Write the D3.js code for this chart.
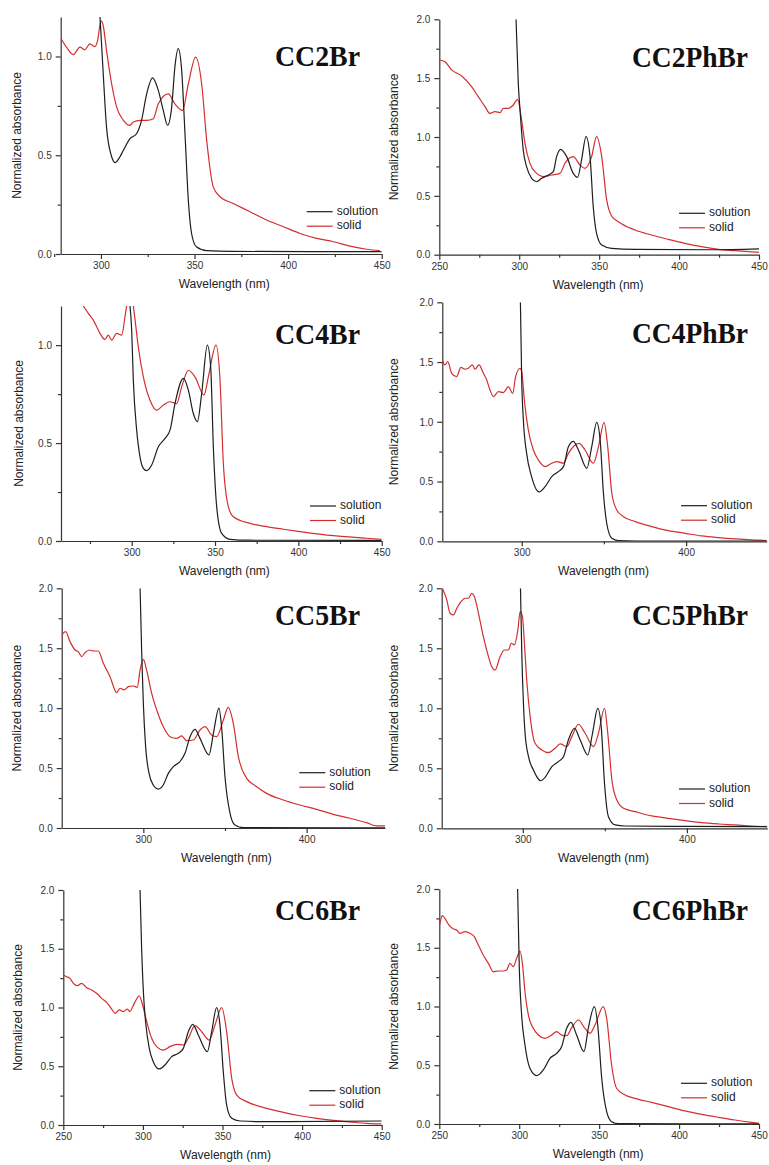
<!DOCTYPE html>
<html lang="en">
<head>
<meta charset="UTF-8">
<title>Normalized absorbance, solution vs solid</title>
<script src="https://d3js.org/d3.v7.min.js"></script>
<style>
  body { margin: 0; background: #fff; }
  svg { display: block; }
  .tick text { font-family: "Liberation Sans", Arial, sans-serif; font-size: 10px; fill: #333; }
  .axis path, .axis line { stroke: #333; stroke-width: 1.2; }
  .label { font-family: "Liberation Sans", Arial, sans-serif; font-size: 12px; fill: #222; }
  .title { font-family: "Liberation Serif", "Times New Roman", serif; font-weight: bold; font-size: 30px; fill: #111; }
</style>
</head>
<body>
<svg id="chart" width="769" height="1165"></svg>
<script>
// [wavelength (nm), normalized absorbance]
const cc2brSolution = [[299.5,1.2],[301,0.95],[303,0.64],[305.5,0.5],[307.5,0.463],[310,0.49],[312,0.525],[315.5,0.584],[319,0.609],[321.7,0.677],[324.4,0.81],[327.6,0.892],[330.6,0.83],[333.3,0.727],[335.6,0.652],[337.8,0.744],[339.5,0.946],[341.3,1.04],[343,0.946],[344.9,0.61],[346.7,0.27],[348.5,0.1],[351,0.037],[356.5,0.017],[370,0.013],[450,0.012]];
const cc2brSolid = [[278.5,1.094],[281.6,1.047],[285.2,1.01],[288.8,1.047],[291.4,1.034],[294.1,1.064],[296.8,1.05],[298.2,1.08],[300,1.18],[301.2,1.157],[303,1.03],[305.7,0.862],[308.4,0.744],[312,0.677],[315.5,0.651],[317.3,0.668],[320.8,0.677],[324.4,0.677],[328,0.685],[330.6,0.76],[336,0.811],[339.5,0.76],[343.6,0.727],[346.7,0.862],[350.6,0.997],[353.8,0.862],[356.5,0.576],[360,0.34],[363.6,0.29],[370.7,0.256],[379.6,0.214],[388.5,0.172],[397.5,0.138],[406.4,0.104],[415.3,0.079],[424.2,0.062],[433,0.04],[442,0.024],[449,0.017]];

const cc2phbrSolution = [[298,2.0],[299.4,1.456],[300.5,1.23],[302.5,0.89],[304.6,0.748],[307.8,0.649],[310.9,0.62],[314,0.649],[318.2,0.677],[321.3,0.705],[323.4,0.833],[325.9,0.895],[329.7,0.833],[333.8,0.691],[336.5,0.657],[339,0.805],[341.8,1.003],[344.3,0.833],[346.3,0.408],[348.4,0.181],[351.6,0.082],[357.8,0.054],[372.4,0.045],[420,0.042],[450,0.05]];
const cc2phbrSolid = [[250,1.654],[253.5,1.64],[257.7,1.57],[264,1.518],[270.2,1.428],[274.4,1.343],[278.6,1.258],[281.7,1.2],[284.8,1.215],[288,1.207],[290,1.244],[293.2,1.244],[296.3,1.272],[299,1.32],[301.5,1.144],[303.6,0.946],[306.7,0.776],[310.9,0.691],[315,0.663],[320.3,0.677],[325.5,0.691],[328.6,0.776],[333.8,0.833],[338,0.762],[341.1,0.734],[345.3,0.833],[348.4,1.003],[351.6,0.833],[354.7,0.465],[357.8,0.329],[362,0.28],[372.4,0.21],[382.8,0.167],[393.3,0.13],[403.7,0.096],[414.1,0.068],[424.6,0.045],[435,0.034],[450,0.02]];

const cc4brSolution = [[299,1.2],[300,1.077],[301,0.82],[303,0.566],[305,0.43],[307,0.371],[309,0.359],[312,0.388],[316,0.481],[320,0.524],[323,0.566],[326,0.702],[331,0.83],[334,0.77],[337,0.651],[339.4,0.609],[342,0.753],[345.4,1.0],[347.4,0.889],[349,0.481],[351,0.175],[354,0.039],[359,0.0085],[370,0.004],[450,0.003]];
const cc4brSolid = [[271,1.2],[274,1.162],[277,1.128],[281,1.06],[284,1.029],[286,1.051],[288,1.026],[291,1.06],[294,1.051],[296,1.145],[297,1.2],[299,1.28],[301,1.2],[301.6,1.16],[304,0.99],[307,0.838],[311,0.719],[315,0.668],[319,0.694],[323,0.711],[327,0.702],[330,0.787],[334,0.872],[338,0.838],[343.4,0.745],[346,0.838],[350.6,1.0],[353,0.821],[355,0.396],[358,0.175],[361,0.124],[371,0.09],[381,0.073],[391,0.06],[401,0.048],[421,0.027],[441,0.014],[450,0.009]];

const cc4phbrSolution = [[299.2,2.0],[300,1.35],[301,1.015],[303,0.736],[306,0.541],[310.5,0.413],[314.2,0.457],[318.3,0.541],[322.3,0.583],[325.4,0.625],[328.4,0.792],[331.4,0.837],[334.5,0.764],[339.6,0.611],[342.6,0.792],[345.6,0.996],[347.7,0.848],[349.7,0.402],[351.7,0.151],[354.8,0.025],[358.8,0.006],[370,0.002],[450,0.002]];
const cc4phbrSolid = [[251.7,1.517],[253.3,1.476],[255,1.503],[257.4,1.406],[260.4,1.378],[263,1.456],[265.5,1.44],[267.5,1.448],[270,1.476],[271.6,1.44],[274,1.476],[276.7,1.406],[278.7,1.35],[280.7,1.266],[282.8,1.211],[285.8,1.252],[288.8,1.244],[291.9,1.294],[294.5,1.238],[296.3,1.378],[299,1.448],[300,1.42],[301.6,1.183],[304,0.932],[307.1,0.764],[310.1,0.681],[314.2,0.625],[318.3,0.653],[321.3,0.667],[325.4,0.653],[328.4,0.736],[334.9,0.82],[338.5,0.764],[343.6,0.653],[346.7,0.792],[350.1,0.996],[352.3,0.792],[354.8,0.402],[357.8,0.262],[361.9,0.206],[369,0.165],[379.1,0.123],[389.2,0.089],[399.4,0.067],[409.5,0.045],[419.7,0.031],[429.8,0.02],[449,0.006]];

const cc5brSolution = [[298,2.0],[299,1.458],[300,1.04],[301.4,0.679],[303.5,0.456],[306.1,0.359],[309.2,0.325],[312.2,0.359],[315.3,0.456],[318.4,0.512],[322.4,0.554],[325.5,0.623],[328.6,0.762],[331.6,0.823],[334.7,0.748],[340.2,0.609],[342.9,0.79],[346.3,1.001],[347.9,0.846],[350,0.428],[353.1,0.122],[356.1,0.025],[361.2,0.003],[448,0.002]];
const cc5brSolid = [[250,1.61],[252.4,1.638],[255.1,1.555],[258.2,1.485],[260.2,1.471],[262.2,1.43],[264.3,1.463],[266.9,1.485],[269.4,1.477],[272.4,1.477],[275.5,1.374],[279.6,1.263],[283.7,1.13],[285.7,1.166],[288.2,1.152],[290.8,1.179],[293.9,1.185],[296.3,1.174],[298,1.318],[300,1.407],[302,1.318],[305.1,1.124],[308.2,0.985],[312.2,0.846],[316.3,0.762],[320.4,0.748],[323.5,0.768],[326.5,0.729],[330.6,0.734],[334.7,0.818],[337.8,0.846],[341.8,0.776],[344.9,0.762],[349,0.901],[352,1.007],[355.1,0.873],[358.2,0.595],[363.3,0.414],[369.4,0.345],[375.5,0.289],[385.7,0.234],[395.9,0.192],[406.1,0.156],[416.3,0.114],[426.5,0.081],[436.7,0.045],[442.9,0.017],[448,0.017]];

const cc5phbrSolution = [[298.6,2.0],[299.4,1.458],[300.4,1.042],[301.4,0.792],[303.5,0.597],[306.5,0.486],[308.5,0.431],[310.6,0.397],[313.6,0.425],[317.7,0.514],[321.7,0.556],[324.8,0.597],[327.8,0.736],[331.5,0.833],[335,0.736],[339.6,0.611],[342.5,0.792],[345.7,1.0],[347.8,0.847],[349.8,0.375],[352.2,0.097],[356.3,0.028],[362.4,0.019],[400,0.016],[449,0.014]];
const cc5phbrSolid = [[251,2.0],[253.7,1.903],[255.7,1.792],[257.7,1.778],[259.8,1.833],[262.4,1.889],[264.8,1.917],[266.9,1.917],[268.9,1.958],[270.5,1.931],[273,1.792],[276,1.597],[279.1,1.431],[281.1,1.347],[283.1,1.319],[286.2,1.431],[288.8,1.486],[291.3,1.486],[292.9,1.542],[294.9,1.528],[297,1.653],[298.4,1.806],[299.8,1.764],[301,1.542],[302.4,1.236],[304.5,0.931],[307.5,0.708],[311.6,0.653],[315.7,0.631],[319.7,0.667],[322.8,0.703],[326.8,0.681],[329.9,0.764],[333.9,0.867],[338,0.792],[343.1,0.681],[346.1,0.792],[349.8,1.0],[351.8,0.792],[354.3,0.403],[357.3,0.236],[361.4,0.167],[368.5,0.139],[378.7,0.103],[388.8,0.083],[399,0.064],[409.1,0.047],[419.3,0.036],[429.5,0.028],[439.6,0.019],[449,0.014]];

const cc6brSolution = [[298.2,2.0],[299.2,1.504],[300.3,1.135],[301.9,0.851],[304,0.652],[306.5,0.539],[310.3,0.477],[313.9,0.511],[318.1,0.582],[322.3,0.61],[325.4,0.652],[328.5,0.794],[331.3,0.857],[334.8,0.766],[340.5,0.624],[343.2,0.794],[346.3,0.999],[348.4,0.851],[350.5,0.454],[352.6,0.17],[355.8,0.057],[361,0.034],[377.7,0.028],[450,0.034]];
const cc6brSolid = [[250,1.277],[252.1,1.262],[254.2,1.248],[256.3,1.206],[258.8,1.186],[261.5,1.206],[264.7,1.169],[267.8,1.149],[270.9,1.121],[274.1,1.078],[277.2,1.044],[280.4,0.987],[282.5,0.95],[285.2,0.979],[287.7,0.965],[290.2,0.987],[291.9,0.965],[293.6,1.007],[295.7,1.064],[297.7,1.1],[299.8,1.021],[302.4,0.879],[305.5,0.738],[308.6,0.667],[312.8,0.638],[317,0.667],[321.2,0.687],[325.4,0.681],[328.5,0.738],[332.7,0.845],[336.9,0.794],[341.7,0.723],[345.3,0.851],[349.5,0.999],[352.6,0.794],[355.8,0.397],[358.9,0.255],[365.2,0.199],[377.7,0.142],[388.2,0.108],[398.7,0.079],[409.2,0.057],[419.6,0.04],[430.1,0.026],[440.6,0.014],[450,0.009]];

const cc6phbrSolution = [[299,2.0],[300,1.353],[301.5,0.928],[303.6,0.672],[306.7,0.474],[310.9,0.411],[315.1,0.46],[319.2,0.559],[323.4,0.601],[326.5,0.658],[329.7,0.814],[332.4,0.865],[335.9,0.757],[340.5,0.616],[343.2,0.814],[347,0.999],[349.1,0.843],[351.6,0.389],[354.7,0.105],[357.8,0.02],[362,0.003],[450,0.002]];
const cc6phbrSolid = [[250,1.679],[251.9,1.773],[253.5,1.75],[256,1.694],[258.8,1.66],[260.8,1.651],[262.9,1.623],[266.1,1.637],[269.2,1.623],[271.9,1.594],[274.4,1.523],[277.5,1.438],[280.7,1.367],[283.8,1.296],[286.9,1.302],[290,1.302],[292.1,1.31],[294.2,1.367],[296.3,1.339],[298.4,1.41],[300.5,1.472],[302.1,1.353],[303.6,1.126],[305.7,0.928],[308.8,0.814],[311.9,0.757],[316.1,0.729],[320.3,0.757],[323.4,0.786],[326.5,0.757],[329.7,0.752],[332.8,0.82],[337,0.885],[341.1,0.814],[344.3,0.772],[347.4,0.843],[352.6,0.999],[354.7,0.899],[357.8,0.502],[360.9,0.304],[366.2,0.247],[372.4,0.218],[382.8,0.184],[393.3,0.148],[403.7,0.111],[414.1,0.082],[424.6,0.057],[435,0.034],[445.4,0.014],[450,0.006]];

// tick values
const xMajor50 = [250, 300, 350, 400, 450];
const xMinor25 = [275, 325, 375, 425];
const xMajor100 = [300, 400];
const xMinor100 = [350];
const yMajorShort = [0, 0.5, 1.0];
const yMinorShort = [0.25, 0.75];
const yMajorTall = [0, 0.5, 1.0, 1.5, 2.0];
const yMinorTall = [0.25, 0.75, 1.25, 1.75];

const seriesNames = ["solution", "solid"];
const seriesColors = ["#1e1e1e", "#d42f2f"];

// panel layout (pixel frame of each axis box)
const panels = [
  { title: "CC2Br", series: [cc2brSolution, cc2brSolid], x0: 60.7, x1: 381.7, yTop: 17, yBase: 254,
    xDomain: [278.5, 450], yMax: 1.2, xMajor: xMajor50.slice(1), xMinor: xMinor25, yMajor: yMajorShort, yMinor: yMinorShort,
    titleX: 275, titleY: 66, titleW: 85, legX: 306.7, legY: 211.7, ylabX: 18 },
  { title: "CC2PhBr", series: [cc2phbrSolution, cc2phbrSolid], x0: 439.3, x1: 759, yTop: 19.3, yBase: 254.7,
    xDomain: [250, 450], yMax: 2, xMajor: xMajor50, xMinor: xMinor25, yMajor: yMajorTall, yMinor: yMinorTall,
    titleX: 632, titleY: 66.7, titleW: 116, legX: 679, legY: 213.3, ylabX: 395 },
  { title: "CC4Br", series: [cc4brSolution, cc4brSolid], x0: 61, x1: 381.7, yTop: 306, yBase: 541,
    xDomain: [257.6, 450], yMax: 1.2, xMajor: xMajor50.slice(1), xMinor: xMinor25, yMajor: yMajorShort, yMinor: yMinorShort,
    titleX: 275, titleY: 344, titleW: 85, legX: 310, legY: 506, ylabX: 20 },
  { title: "CC4PhBr", series: [cc4phbrSolution, cc4phbrSolid], x0: 442.3, x1: 766.7, yTop: 302.3, yBase: 541.3,
    xDomain: [251.7, 449], yMax: 2, xMajor: xMajor100, xMinor: xMinor100, yMajor: yMajorTall, yMinor: yMinorTall,
    titleX: 632, titleY: 343.3, titleW: 116, legX: 681, legY: 505.7, ylabX: 395 },
  { title: "CC5Br", series: [cc5brSolution, cc5brSolid], x0: 61.7, x1: 385, yTop: 588.3, yBase: 828,
    xDomain: [250, 448], yMax: 2, xMajor: xMajor100, xMinor: xMinor100, yMajor: yMajorTall, yMinor: yMinorTall,
    titleX: 275, titleY: 625, titleW: 85, legX: 299.3, legY: 772.7, ylabX: 18 },
  { title: "CC5PhBr", series: [cc5phbrSolution, cc5phbrSolid], x0: 441.7, x1: 767.3, yTop: 588.3, yBase: 828.3,
    xDomain: [250.6, 449], yMax: 2, xMajor: xMajor100, xMinor: xMinor100, yMajor: yMajorTall, yMinor: yMinorTall,
    titleX: 632, titleY: 625, titleW: 116, legX: 679, legY: 789, ylabX: 395 },
  { title: "CC6Br", series: [cc6brSolution, cc6brSolid], x0: 63.3, x1: 381.7, yTop: 890, yBase: 1125,
    xDomain: [250, 450], yMax: 2, xMajor: xMajor50, xMinor: xMinor25, yMajor: yMajorTall, yMinor: yMinorTall,
    titleX: 275, titleY: 920, titleW: 85, legX: 309.3, legY: 1090.7, ylabX: 19 },
  { title: "CC6PhBr", series: [cc6phbrSolution, cc6phbrSolid], x0: 439.3, x1: 759, yTop: 889, yBase: 1124,
    xDomain: [250, 450], yMax: 2, xMajor: xMajor50, xMinor: xMinor25, yMajor: yMajorTall, yMinor: yMinorTall,
    titleX: 632, titleY: 920, titleW: 116, legX: 681, legY: 1083.3, ylabX: 395 }
];

const svg = d3.select("#chart");
svg.append("rect").attr("width", 769).attr("height", 1165).attr("fill", "#fff");

panels.forEach((p, i) => {
  const x = d3.scaleLinear().domain(p.xDomain).range([p.x0, p.x1]);
  const y = d3.scaleLinear().domain([0, p.yMax]).range([p.yBase, p.yTop]);
  const g = svg.append("g");

  svg.append("clipPath").attr("id", `clip${i}`)
    .append("rect").attr("x", p.x0).attr("y", p.yTop)
    .attr("width", p.x1 - p.x0).attr("height", p.yBase - p.yTop);

  const fmt = d3.format(".1f");

  // minor ticks first, then major axis on top
  g.append("g").attr("class", "axis").attr("transform", `translate(0,${p.yBase})`)
    .call(d3.axisBottom(x).tickValues(p.xMinor).tickSize(3).tickSizeOuter(0).tickFormat(""))
    .select(".domain").remove();
  g.append("g").attr("class", "axis").attr("transform", `translate(0,${p.yBase})`)
    .call(d3.axisBottom(x).tickValues(p.xMajor).tickSize(5).tickSizeOuter(0).tickPadding(3).tickFormat(d3.format("d")));

  g.append("g").attr("class", "axis").attr("transform", `translate(${p.x0},0)`)
    .call(d3.axisLeft(y).tickValues(p.yMinor).tickSize(3).tickSizeOuter(0).tickFormat(""))
    .select(".domain").remove();
  g.append("g").attr("class", "axis").attr("transform", `translate(${p.x0},0)`)
    .call(d3.axisLeft(y).tickValues(p.yMajor).tickSize(5).tickSizeOuter(0).tickPadding(4).tickFormat(fmt));

  // curves
  const line = d3.line()
    .x(d => x(d[0]))
    .y(d => y(d[1]))
    .curve(d3.curveMonotoneX);

  const plot = g.append("g").attr("clip-path", `url(#clip${i})`);
  [1, 0].forEach(k => {
    plot.append("path")
      .attr("d", line(p.series[k]))
      .attr("fill", "none")
      .attr("stroke", seriesColors[k])
      .attr("stroke-width", 1.2)
      .attr("stroke-linejoin", "round");
  });

  // axis labels
  g.append("text").attr("class", "label")
    .attr("x", (p.x0 + p.x1) / 2 + (i % 2 === 0 ? 3 : -1))
    .attr("y", p.yBase + 31)
    .attr("text-anchor", "middle").attr("dominant-baseline", "middle")
    .text("Wavelength (nm)");

  g.append("text").attr("class", "label")
    .attr("transform", `translate(${p.ylabX},${(p.yTop + p.yBase) / 2}) rotate(-90)`)
    .attr("text-anchor", "middle").attr("dominant-baseline", "middle")
    .text("Normalized absorbance");

  // panel title
  g.append("text").attr("class", "title")
    .attr("x", p.titleX).attr("y", p.titleY)
    .attr("textLength", p.titleW).attr("lengthAdjust", "spacingAndGlyphs")
    .text(p.title);

  // legend
  seriesNames.forEach((name, k) => {
    const ly = p.legY + k * 14.5;
    g.append("line")
      .attr("x1", p.legX).attr("x2", p.legX + 26)
      .attr("y1", ly).attr("y2", ly)
      .attr("stroke", seriesColors[k]).attr("stroke-width", 1.2);
    g.append("text").attr("class", "label")
      .attr("x", p.legX + 30).attr("y", ly)
      .attr("dominant-baseline", "middle")
      .text(name);
  });
});
</script>
</body>
</html>
